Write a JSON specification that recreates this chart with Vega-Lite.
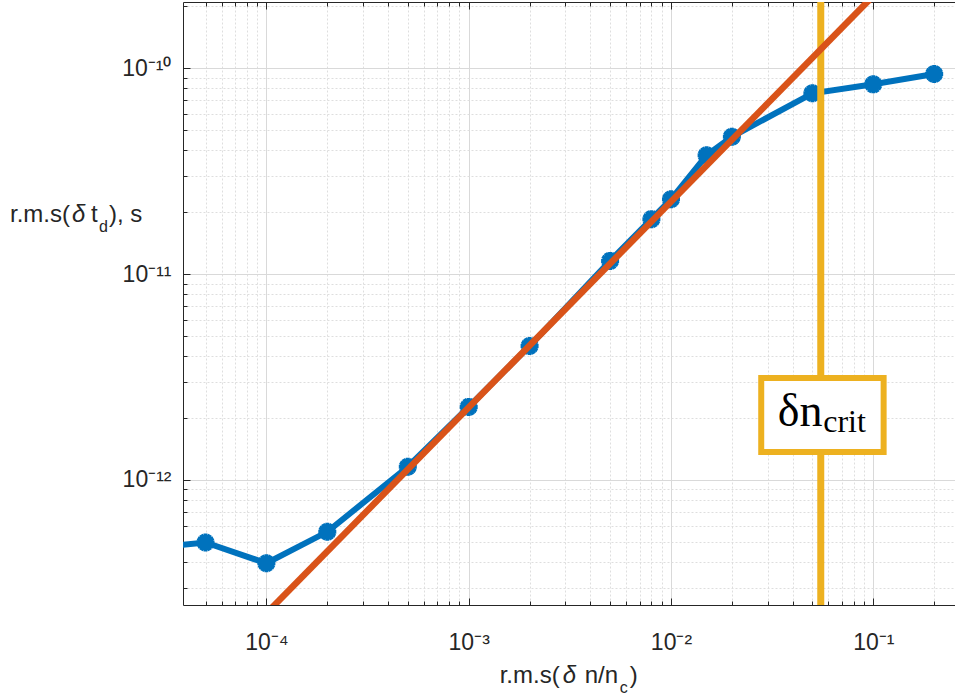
{
  "$schema": "https://vega.github.io/schema/vega-lite/v6.json",
  "width": 772,
  "height": 603,
  "autosize": "none",
  "padding": {"left": 183, "top": 2, "right": 0, "bottom": 95},
  "background": "white",
  "config": {
    "view": {"stroke": null},
    "axis": {"labelFont": "Liberation Sans", "labelFontSize": 22, "labelColor": "#262626", "domainColor": "#262626", "tickColor": "#262626", "domainWidth": 1, "tickWidth": 1}
  },
  "datasets": {
    "meas": [
      {"dn": 0.00002, "td": 4.53e-13},
      {"dn": 0.00005, "td": 4.97e-13},
      {"dn": 0.0001, "td": 3.94e-13},
      {"dn": 0.0002, "td": 5.6e-13},
      {"dn": 0.0005, "td": 1.16e-12},
      {"dn": 0.001, "td": 2.265e-12},
      {"dn": 0.002, "td": 4.48e-12},
      {"dn": 0.005, "td": 1.16e-11},
      {"dn": 0.008, "td": 1.85e-11},
      {"dn": 0.01, "td": 2.31e-11},
      {"dn": 0.015, "td": 3.78e-11},
      {"dn": 0.02, "td": 4.65e-11},
      {"dn": 0.05, "td": 7.56e-11},
      {"dn": 0.1, "td": 8.36e-11},
      {"dn": 0.2, "td": 9.38e-11}
    ],
    "fit": [
      {"dn": 0.00005, "td": 1.125e-13},
      {"dn": 0.2, "td": 4.5e-10}
    ]
  },
  "resolve": {"axis": {"x": "independent"}},
  "layer": [
    {
      "data": {"name": "meas"},
      "mark": {"type": "line", "color": "#0072BD", "strokeWidth": 6, "clip": true},
      "encoding": {
        "x": {
          "field": "dn", "type": "quantitative",
          "scale": {"type": "log", "domain": [3.87e-5, 0.2535], "nice": false},
          "axis": {
            "orient": "bottom", "title": null,
            "values": [0.00005, 0.00006, 0.00007, 0.00008, 0.00009, 0.0001, 0.0002, 0.0003, 0.0004, 0.0005, 0.0006, 0.0007, 0.0008, 0.0009, 0.001, 0.002, 0.003, 0.004, 0.005, 0.006, 0.007, 0.008, 0.009, 0.01, 0.02, 0.03, 0.04, 0.05, 0.06, 0.07, 0.08, 0.09, 0.1, 0.2],
            "grid": true,
            "gridColor": {"condition": {"test": "abs(log(datum.value)/LN10 - round(log(datum.value)/LN10)) < 0.01", "value": "#d9d9d9"}, "value": "#dedede"},
            "gridDash": {"condition": {"test": "abs(log(datum.value)/LN10 - round(log(datum.value)/LN10)) < 0.01", "value": []}, "value": [2, 2]},
            "tickSize": {"condition": {"test": "abs(log(datum.value)/LN10 - round(log(datum.value)/LN10)) < 0.01", "value": -7}, "value": -4},
            "labelExpr": "abs(log(datum.value)/LN10 - round(log(datum.value)/LN10)) > 0.01 ? '' : round(log(datum.value)/LN10) == -4 ? '10⁻⁴' : round(log(datum.value)/LN10) == -3 ? '10⁻³' : round(log(datum.value)/LN10) == -2 ? '10⁻²' : '10⁻¹'",
            "labelFontSize": 23,
            "labelPadding": 33,
            "labelOverlap": false,
            "labelFlush": false
          }
        },
        "y": {
          "field": "td", "type": "quantitative", "title": null,
          "scale": {"type": "log", "domain": [2.47e-13, 2.1e-10], "nice": false},
          "axis": {
            "orient": "left", "title": null,
            "values": [3e-13, 4e-13, 5e-13, 6e-13, 7e-13, 8e-13, 9e-13, 1e-12, 2e-12, 3e-12, 4e-12, 5e-12, 6e-12, 7e-12, 8e-12, 9e-12, 1e-11, 2e-11, 3e-11, 4e-11, 5e-11, 6e-11, 7e-11, 8e-11, 9e-11, 1e-10, 2e-10],
            "grid": true,
            "gridColor": {"condition": {"test": "abs(log(datum.value)/LN10 - round(log(datum.value)/LN10)) < 0.01", "value": "#d9d9d9"}, "value": "#dedede"},
            "gridDash": {"condition": {"test": "abs(log(datum.value)/LN10 - round(log(datum.value)/LN10)) < 0.01", "value": []}, "value": [2, 2]},
            "tickSize": {"condition": {"test": "abs(log(datum.value)/LN10 - round(log(datum.value)/LN10)) < 0.01", "value": -7}, "value": -4},
            "labelExpr": "abs(log(datum.value)/LN10 - round(log(datum.value)/LN10)) > 0.01 ? '' : round(log(datum.value)/LN10) == -12 ? '10⁻¹²' : round(log(datum.value)/LN10) == -11 ? '10⁻¹¹' : '10⁻¹⁰'",
            "labelFontSize": 23,
            "labelPadding": 19,
            "labelOverlap": false,
            "labelFlush": false
          }
        }
      }
    },
    {
      "data": {"name": "meas"},
      "mark": {"type": "point", "shape": "M-1,0L1,0M-0.866,-0.5L0.866,0.5M-0.5,-0.866L0.5,0.866M0,-1L0,1M0.5,-0.866L-0.5,0.866M0.866,-0.5L-0.866,0.5", "filled": false, "color": "#0072BD", "strokeWidth": 4, "size": 324, "opacity": 1, "clip": true},
      "encoding": {
        "x": {
          "field": "dn", "type": "quantitative",
          "scale": {"type": "log", "domain": [3.87e-5, 0.2535], "nice": false},
          "axis": {
            "orient": "top", "title": null,
            "values": [0.00005, 0.00006, 0.00007, 0.00008, 0.00009, 0.0001, 0.0002, 0.0003, 0.0004, 0.0005, 0.0006, 0.0007, 0.0008, 0.0009, 0.001, 0.002, 0.003, 0.004, 0.005, 0.006, 0.007, 0.008, 0.009, 0.01, 0.02, 0.03, 0.04, 0.05, 0.06, 0.07, 0.08, 0.09, 0.1, 0.2],
            "grid": false, "labels": false, "domain": true,
            "tickSize": {"condition": {"test": "abs(log(datum.value)/LN10 - round(log(datum.value)/LN10)) < 0.01", "value": -7}, "value": -4}
          }
        },
        "y": {"field": "td", "type": "quantitative", "title": null, "scale": {"type": "log", "domain": [2.47e-13, 2.1e-10], "nice": false}}
      }
    },
    {
      "data": {"values": [{"dcrit": 0.055}]},
      "mark": {"type": "rule", "color": "#EDB120", "strokeWidth": 7},
      "encoding": {
        "x": {"field": "dcrit", "type": "quantitative", "scale": {"type": "log", "domain": [3.87e-5, 0.2535], "nice": false}, "axis": null}
      }
    },
    {
      "data": {"name": "fit"},
      "mark": {"type": "line", "color": "#D95319", "strokeWidth": 6.5, "clip": true},
      "encoding": {
        "x": {"field": "dn", "type": "quantitative", "scale": {"type": "log", "domain": [3.87e-5, 0.2535], "nice": false}, "axis": null},
        "y": {"field": "td", "type": "quantitative", "title": null, "scale": {"type": "log", "domain": [2.47e-13, 2.1e-10], "nice": false}}
      }
    },
    {
      "data": {"values": [{}]},
      "mark": {"type": "rect", "fill": "white", "stroke": "#EDB120", "strokeWidth": 6},
      "encoding": {
        "x": {"datum": 0.02793, "type": "quantitative", "scale": {"type": "log", "domain": [3.87e-5, 0.2535], "nice": false}, "axis": null},
        "x2": {"datum": 0.1125},
        "y": {"datum": 3.13e-12, "type": "quantitative", "title": null, "scale": {"type": "log", "domain": [2.47e-13, 2.1e-10], "nice": false}},
        "y2": {"datum": 1.367e-12}
      }
    },
    {
      "data": {"values": [{}]},
      "mark": {"type": "text", "text": "δn", "font": "Liberation Serif", "fontSize": 46, "align": "left", "baseline": "alphabetic", "dx": -43, "dy": -54, "color": "#000000"},
      "encoding": {
        "x": {"datum": 0.055, "type": "quantitative", "scale": {"type": "log", "domain": [3.87e-5, 0.2535], "nice": false}, "axis": null},
        "y": {"datum": 1e-12, "type": "quantitative", "title": null, "scale": {"type": "log", "domain": [2.47e-13, 2.1e-10], "nice": false}}
      }
    },
    {
      "data": {"values": [{}]},
      "mark": {"type": "text", "text": "crit", "font": "Liberation Serif", "fontSize": 32, "align": "left", "baseline": "alphabetic", "dx": 2.5, "dy": -48, "color": "#000000"},
      "encoding": {
        "x": {"datum": 0.055, "type": "quantitative", "scale": {"type": "log", "domain": [3.87e-5, 0.2535], "nice": false}, "axis": null},
        "y": {"datum": 1e-12, "type": "quantitative", "title": null, "scale": {"type": "log", "domain": [2.47e-13, 2.1e-10], "nice": false}}
      }
    },
    {
      "data": {"values": [{}]},
      "mark": {"type": "text", "text": "r.m.s(", "font": "Liberation Sans", "fontSize": 24, "align": "left", "baseline": "alphabetic", "dx": 31, "dy": 78, "color": "#262626"},
      "encoding": {
        "x": {"datum": 0.001, "type": "quantitative", "scale": {"type": "log", "domain": [3.87e-5, 0.2535], "nice": false}, "axis": null},
        "y": {"datum": 2.47e-13, "type": "quantitative", "title": null, "scale": {"type": "log", "domain": [2.47e-13, 2.1e-10], "nice": false}}
      }
    },
    {
      "data": {"values": [{}]},
      "mark": {"type": "text", "text": "δ", "font": "Liberation Sans", "fontStyle": "italic", "fontSize": 24, "align": "left", "baseline": "alphabetic", "dx": 94, "dy": 78, "color": "#262626"},
      "encoding": {
        "x": {"datum": 0.001, "type": "quantitative", "scale": {"type": "log", "domain": [3.87e-5, 0.2535], "nice": false}, "axis": null},
        "y": {"datum": 2.47e-13, "type": "quantitative", "title": null, "scale": {"type": "log", "domain": [2.47e-13, 2.1e-10], "nice": false}}
      }
    },
    {
      "data": {"values": [{}]},
      "mark": {"type": "text", "text": "n/n", "font": "Liberation Sans", "fontSize": 24, "align": "left", "baseline": "alphabetic", "dx": 116, "dy": 78, "color": "#262626"},
      "encoding": {
        "x": {"datum": 0.001, "type": "quantitative", "scale": {"type": "log", "domain": [3.87e-5, 0.2535], "nice": false}, "axis": null},
        "y": {"datum": 2.47e-13, "type": "quantitative", "title": null, "scale": {"type": "log", "domain": [2.47e-13, 2.1e-10], "nice": false}}
      }
    },
    {
      "data": {"values": [{}]},
      "mark": {"type": "text", "text": "c", "font": "Liberation Sans", "fontSize": 16, "align": "left", "baseline": "alphabetic", "dx": 151, "dy": 88, "color": "#262626"},
      "encoding": {
        "x": {"datum": 0.001, "type": "quantitative", "scale": {"type": "log", "domain": [3.87e-5, 0.2535], "nice": false}, "axis": null},
        "y": {"datum": 2.47e-13, "type": "quantitative", "title": null, "scale": {"type": "log", "domain": [2.47e-13, 2.1e-10], "nice": false}}
      }
    },
    {
      "data": {"values": [{}]},
      "mark": {"type": "text", "text": ")", "font": "Liberation Sans", "fontSize": 24, "align": "left", "baseline": "alphabetic", "dx": 161, "dy": 78, "color": "#262626"},
      "encoding": {
        "x": {"datum": 0.001, "type": "quantitative", "scale": {"type": "log", "domain": [3.87e-5, 0.2535], "nice": false}, "axis": null},
        "y": {"datum": 2.47e-13, "type": "quantitative", "title": null, "scale": {"type": "log", "domain": [2.47e-13, 2.1e-10], "nice": false}}
      }
    },
    {
      "data": {"values": [{}]},
      "mark": {"type": "text", "text": "r.m.s(", "font": "Liberation Sans", "fontSize": 24, "align": "left", "baseline": "alphabetic", "dx": -173, "dy": -52, "color": "#262626"},
      "encoding": {
        "x": {"datum": 3.87e-5, "type": "quantitative", "scale": {"type": "log", "domain": [3.87e-5, 0.2535], "nice": false}, "axis": null},
        "y": {"datum": 1e-11, "type": "quantitative", "title": null, "scale": {"type": "log", "domain": [2.47e-13, 2.1e-10], "nice": false}}
      }
    },
    {
      "data": {"values": [{}]},
      "mark": {"type": "text", "text": "δ", "font": "Liberation Sans", "fontStyle": "italic", "fontSize": 24, "align": "left", "baseline": "alphabetic", "dx": -111, "dy": -52, "color": "#262626"},
      "encoding": {
        "x": {"datum": 3.87e-5, "type": "quantitative", "scale": {"type": "log", "domain": [3.87e-5, 0.2535], "nice": false}, "axis": null},
        "y": {"datum": 1e-11, "type": "quantitative", "title": null, "scale": {"type": "log", "domain": [2.47e-13, 2.1e-10], "nice": false}}
      }
    },
    {
      "data": {"values": [{}]},
      "mark": {"type": "text", "text": "t", "font": "Liberation Sans", "fontSize": 24, "align": "left", "baseline": "alphabetic", "dx": -92, "dy": -52, "color": "#262626"},
      "encoding": {
        "x": {"datum": 3.87e-5, "type": "quantitative", "scale": {"type": "log", "domain": [3.87e-5, 0.2535], "nice": false}, "axis": null},
        "y": {"datum": 1e-11, "type": "quantitative", "title": null, "scale": {"type": "log", "domain": [2.47e-13, 2.1e-10], "nice": false}}
      }
    },
    {
      "data": {"values": [{}]},
      "mark": {"type": "text", "text": "d", "font": "Liberation Sans", "fontSize": 16, "align": "left", "baseline": "alphabetic", "dx": -84, "dy": -42, "color": "#262626"},
      "encoding": {
        "x": {"datum": 3.87e-5, "type": "quantitative", "scale": {"type": "log", "domain": [3.87e-5, 0.2535], "nice": false}, "axis": null},
        "y": {"datum": 1e-11, "type": "quantitative", "title": null, "scale": {"type": "log", "domain": [2.47e-13, 2.1e-10], "nice": false}}
      }
    },
    {
      "data": {"values": [{}]},
      "mark": {"type": "text", "text": "), s", "font": "Liberation Sans", "fontSize": 24, "align": "left", "baseline": "alphabetic", "dx": -74, "dy": -52, "color": "#262626"},
      "encoding": {
        "x": {"datum": 3.87e-5, "type": "quantitative", "scale": {"type": "log", "domain": [3.87e-5, 0.2535], "nice": false}, "axis": null},
        "y": {"datum": 1e-11, "type": "quantitative", "title": null, "scale": {"type": "log", "domain": [2.47e-13, 2.1e-10], "nice": false}}
      }
    }
  ]
}
